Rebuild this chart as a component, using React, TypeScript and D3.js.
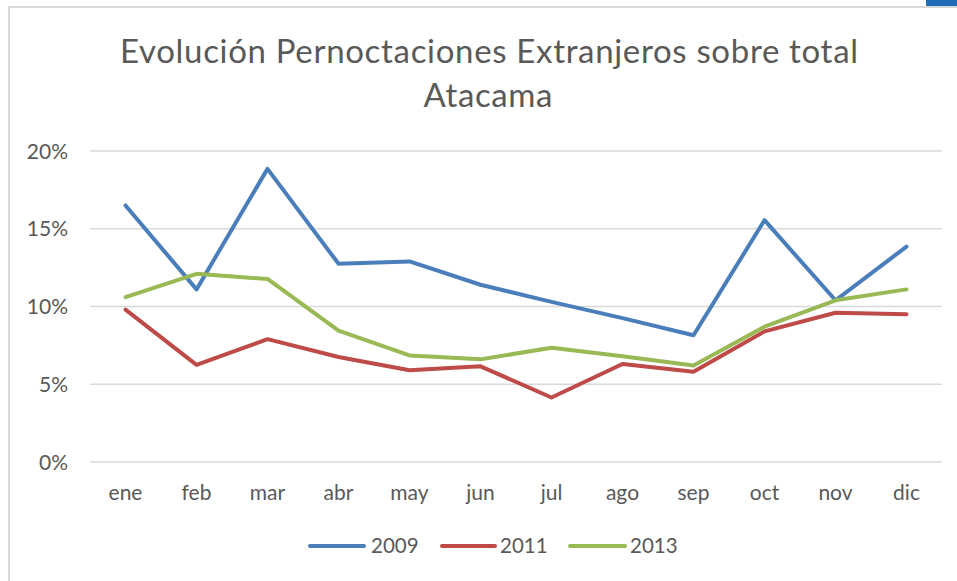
import React from "react";
import * as d3 from "d3";

const months = ["ene", "feb", "mar", "abr", "may", "jun", "jul", "ago", "sep", "oct", "nov", "dic"];
const s2009 = [16.5, 11.1, 18.85, 12.75, 12.9, 11.4, 10.3, 9.25, 8.15, 15.55, 10.4, 13.85];
const s2011 = [9.8, 6.25, 7.9, 6.75, 5.9, 6.15, 4.15, 6.3, 5.8, 8.4, 9.6, 9.5];
const s2013 = [10.6, 12.1, 11.77, 8.45, 6.85, 6.6, 7.35, 6.8, 6.2, 8.7, 10.4, 11.1];
const seriesNames = ["2009", "2011", "2013"];
const yTicks = [0, 5, 10, 15, 20];
const titleLines = ["Evolución Pernoctaciones Extranjeros sobre total", "Atacama"];

const colors = ["#4A7EBB", "#BE4B48", "#98B954"];
const FONT = "Lato, 'Open Sans', sans-serif";
const TXT = "#595959";

export default function App() {
  const W = 957, H = 581;
  const left = 90, right = 942, top = 151, bottom = 462;
  const x = d3.scaleBand<string>().domain(months).range([left, right]);
  const y = d3.scaleLinear().domain([0, 20]).range([bottom, top]);
  const line = d3
    .line<number>()
    .x((_, i) => (x(months[i]) as number) + x.bandwidth() / 2)
    .y((d) => y(d));
  const data = [s2009, s2011, s2013];

  const legendItems = [
    { x1: 310, x2: 364, tx: 371 },
    { x1: 442, x2: 495, tx: 500 },
    { x1: 570, x2: 625, tx: 630 },
  ];

  return (
    <svg
      width={W}
      height={H}
      style={{ position: "absolute", left: 0, top: 0, background: "#fff" }}
      fontFamily={FONT}
    >
      <rect x={0} y={0} width={W} height={H} fill="#fff" />
      {/* border */}
      <rect x={8} y={6} width={W} height={2} fill="#d9d9d9" />
      <rect x={8} y={6} width={2} height={H} fill="#d9d9d9" />
      <rect x={926} y={0} width={31} height={6} fill="#1F6BB5" />

      {/* title */}
      <text x={489} y={63} textAnchor="middle" fontSize={33} fill={TXT} textLength={738} lengthAdjust="spacing">
        {titleLines[0]}
      </text>
      <text x={488} y={107} textAnchor="middle" fontSize={33} fill={TXT} textLength={129} lengthAdjust="spacing">
        {titleLines[1]}
      </text>

      {/* gridlines & y labels */}
      {yTicks.map((t) => (
        <g key={t}>
          <line x1={left} x2={right} y1={y(t)} y2={y(t)} stroke="#d9d9d9" strokeWidth={1.5} />
          <text x={68} y={y(t)} dy="0.36em" textAnchor="end" fontSize={21} fill={TXT}>
            {t + "%"}
          </text>
        </g>
      ))}

      {/* x labels */}
      {months.map((m) => (
        <text
          key={m}
          x={(x(m) as number) + x.bandwidth() / 2}
          y={500}
          textAnchor="middle"
          fontSize={21}
          fill={TXT}
        >
          {m}
        </text>
      ))}

      {/* lines */}
      {data.map((d, i) => (
        <path
          key={i}
          d={line(d) as string}
          fill="none"
          stroke={colors[i]}
          strokeWidth={4}
          strokeLinejoin="round"
          strokeLinecap="round"
        />
      ))}

      {/* legend */}
      {legendItems.map((it, i) => (
        <g key={i}>
          <line x1={it.x1} x2={it.x2} y1={546} y2={546} stroke={colors[i]} strokeWidth={4} strokeLinecap="round" />
          <text x={it.tx} y={546} dy="0.36em" fontSize={20.5} fill={TXT}>
            {seriesNames[i]}
          </text>
        </g>
      ))}
    </svg>
  );
}
